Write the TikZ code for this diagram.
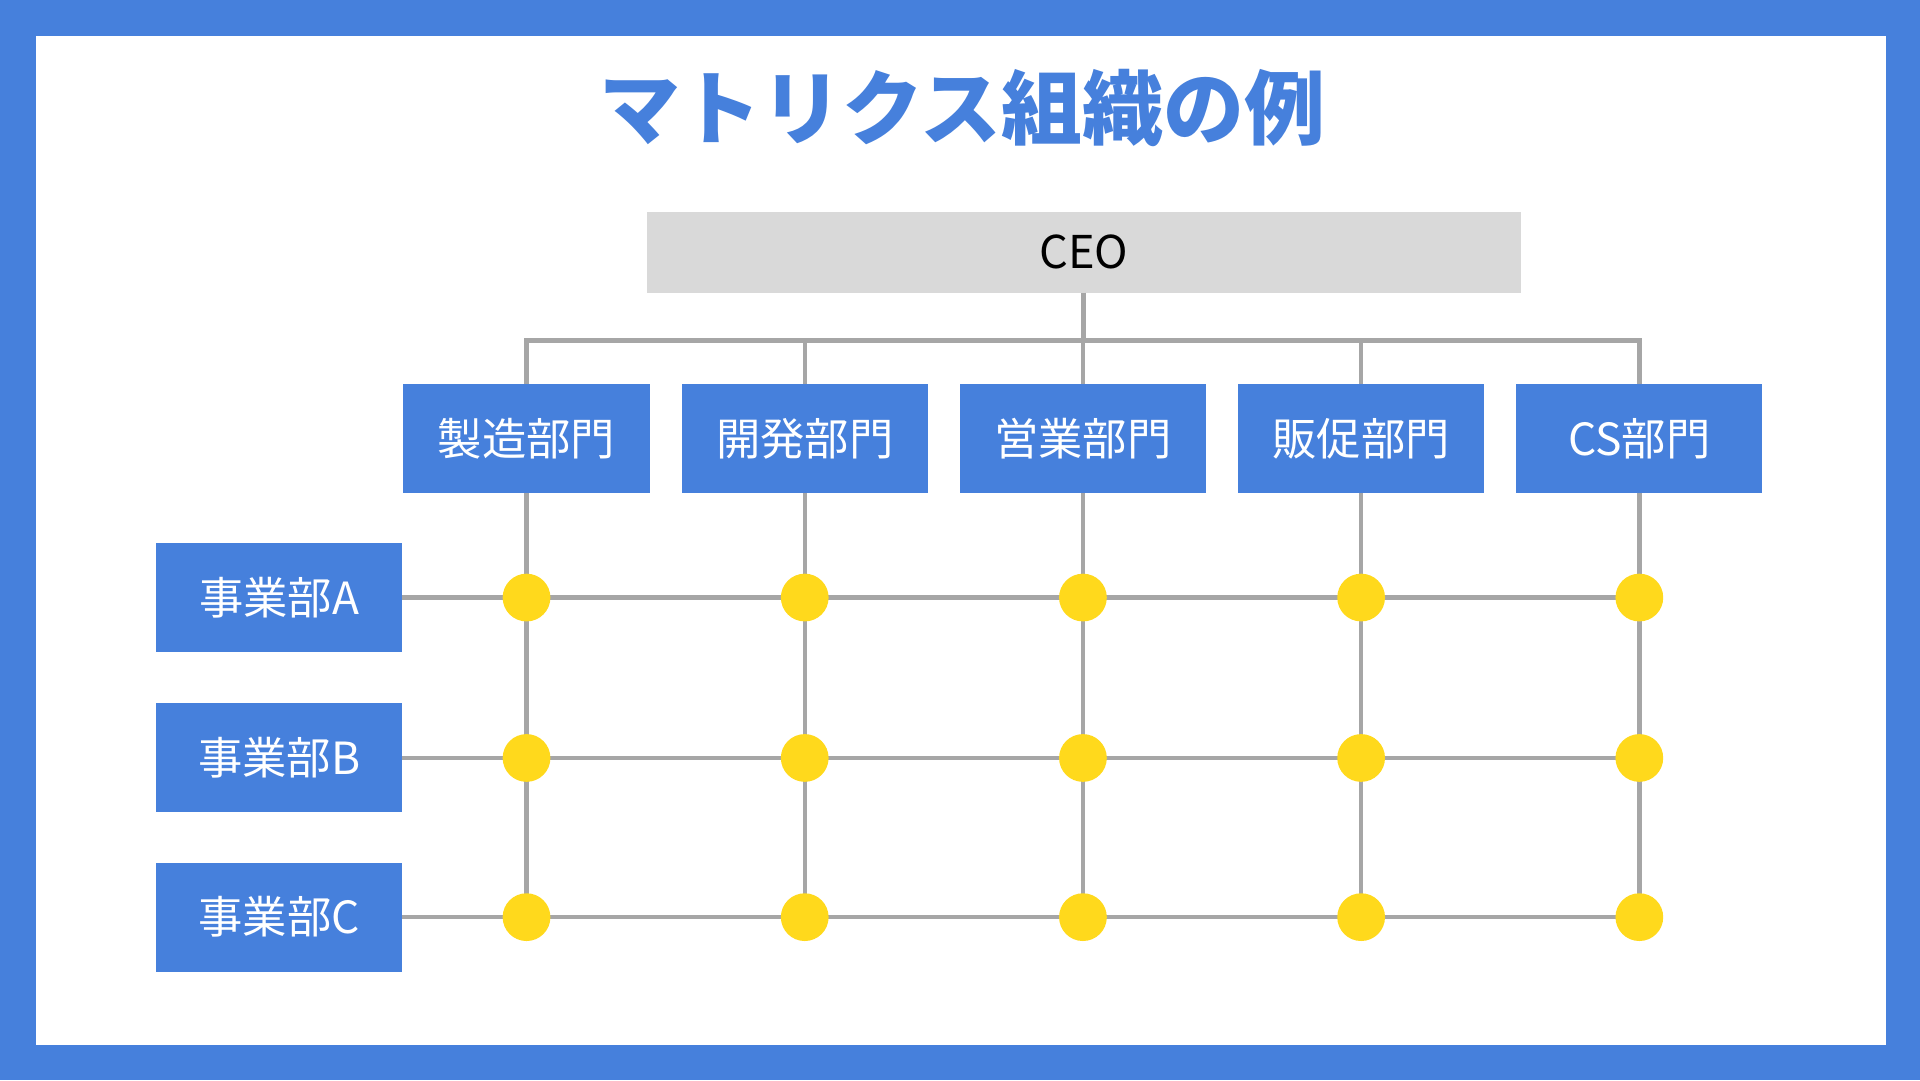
\documentclass[tikz,border=0pt]{standalone}
\usepackage{fontspec}
\setmainfont{Noto Sans CJK JP}
\usetikzlibrary{positioning}
\definecolor{orgblue}{HTML}{4680DC}
\definecolor{linegray}{HTML}{A6A6A6}
\definecolor{ceogray}{HTML}{D9D9D9}
\definecolor{dotyellow}{HTML}{FFD91C}
\begin{document}
\begin{tikzpicture}[x=0.1mm,y=-0.1mm]
        \tikzstyle{unit}=[fill=orgblue,text=white,minimum width=20.1mm,minimum height=8.9mm,inner sep=0pt,outer sep=0pt,font=\fontsize{10.3pt}{12pt}\selectfont]
        \tikzstyle{link}=[draw=linegray,line width=0.36mm]
        \tikzstyle{cross}=[circle,fill=dotyellow,minimum size=3.9mm,inner sep=0pt]
        \useasboundingbox (0,0) rectangle (1568,882);
        % frame
        \fill[orgblue] (0,0) rectangle (1568,882);
        \fill[white] (29,29) rectangle (1540,853);
        % title
        \node (title) at (786,88) [text=orgblue,font=\fontsize{18.8pt}{22pt}\selectfont\bfseries] {マトリクス組織の例};
        % top
        \node (ceo) at (885,206) [fill=ceogray,minimum width=71.4mm,minimum height=6.6mm,inner sep=0pt,outer sep=0pt,font=\fontsize{10.5pt}{12pt}\selectfont] {CEO};
        \coordinate (bus) at (885,278);
        % functions
        \node (d1) at (430,358) [unit] {製造部門};
        \node (d2) [unit,right=2.62mm of d1] {開発部門};
        \node (d3) [unit,right=2.62mm of d2] {営業部門};
        \node (d4) [unit,right=2.62mm of d3] {販促部門};
        \node (d5) [unit,right=2.62mm of d4] {CS部門};
        % divisions
        \node (bA) at (228,488) [unit] {事業部A};
        \node (bB) [unit,below=4.2mm of bA] {事業部B};
        \node (bC) [unit,below=4.1mm of bB] {事業部C};
        \foreach \r in {A,B,C}
            \foreach \c in {1,...,5}
                \coordinate (\r\c) at (d\c |- b\r);
        % lines
        \draw[link] (ceo) -- (bus);
        \draw[link] (d1) -- (d1 |- bus) -- (d5 |- bus) -- (d5);
        \foreach \c in {2,3,4}
            \draw[link] (d\c) -- (d\c |- bus);
        \foreach \c in {1,...,5}
            \draw[link] (d\c) -- (C\c);
        \foreach \r in {A,B,C}
            \draw[link] (b\r) -- (\r5);
        % crossings
        \foreach \r in {A,B,C}
            \foreach \c in {1,...,5}
                \node (dot\r\c) at (\r\c) [cross] {};
\end{tikzpicture}
\end{document}
